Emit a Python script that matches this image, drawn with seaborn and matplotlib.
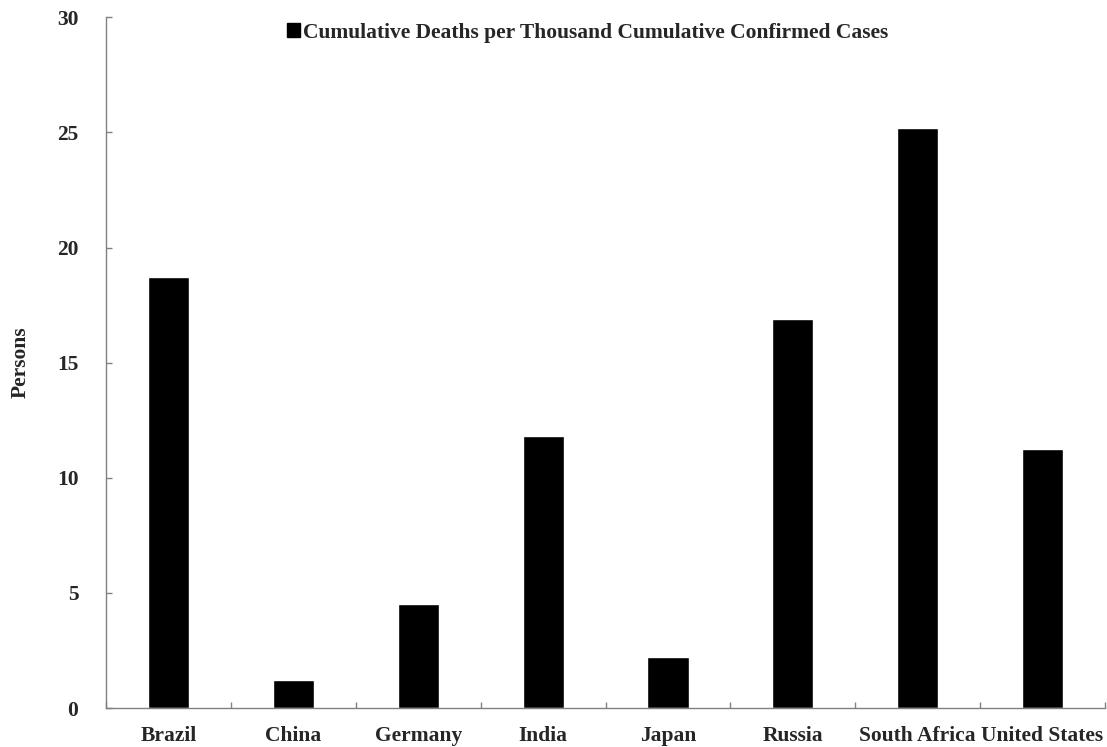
import pandas as pd
import seaborn as sns
import matplotlib.pyplot as plt
from matplotlib.patches import Patch

# Values
countries = ['Brazil', 'China', 'Germany', 'India', 'Japan', 'Russia',
             'South Africa', 'United States']
deaths_per_thousand = [18.7, 1.22, 4.52, 11.82, 2.2, 16.88, 25.18, 11.24]
series_name = 'Cumulative Deaths per Thousand Cumulative Confirmed Cases'

df = pd.DataFrame({'country': countries, 'value': deaths_per_thousand})

sns.set_style('white')
plt.rcParams['font.family'] = ['Liberation Serif', 'DejaVu Serif']
plt.rcParams['font.weight'] = 'bold'
fs = 15.5

fig = plt.figure(figsize=(11.07, 7.47), dpi=100)
ax = fig.add_axes([0.096, 0.052, 0.902, 0.925])

sns.barplot(data=df, x='country', y='value', color='black', width=0.33,
            saturation=1, ax=ax)

ax.set_xlim(-0.5, len(countries) - 0.5)
ax.set_ylim(0, 30)
ax.set_yticks(range(0, 31, 5))
ax.set_yticklabels([str(v) for v in range(0, 31, 5)], fontsize=fs, fontweight='bold')

# category labels at centres, tick marks at boundaries
ax.set_xticks([i - 0.5 for i in range(len(countries) + 1)])
ax.set_xticklabels([])
ax.set_xticks(range(len(countries)), minor=True)
ax.set_xticklabels(countries, minor=True, fontsize=fs, fontweight='bold')
ax.tick_params(axis='x', which='minor', bottom=True, length=0, pad=13)
ax.tick_params(axis='x', which='major', bottom=True, direction='in', length=4,
               color='#808080', width=1)
ax.tick_params(axis='y', left=True, direction='in', length=4, color='#808080',
               width=1, pad=20)

ax.set_xlabel('')
ax.set_ylabel('Persons', fontsize=fs, fontweight='bold', labelpad=19)

for side in ['top', 'right']:
    ax.spines[side].set_visible(False)
for side in ['left', 'bottom']:
    ax.spines[side].set_color('#808080')
    ax.spines[side].set_linewidth(1)

handle = Patch(facecolor='black', edgecolor='black')
ax.legend([handle], [series_name], loc='upper center', bbox_to_anchor=(0.482, 1.02),
          frameon=False, handlelength=0.6, handleheight=0.65, handletextpad=0.15,
          prop={'size': fs, 'weight': 'bold'})

fig.savefig('out.png', dpi=100)
